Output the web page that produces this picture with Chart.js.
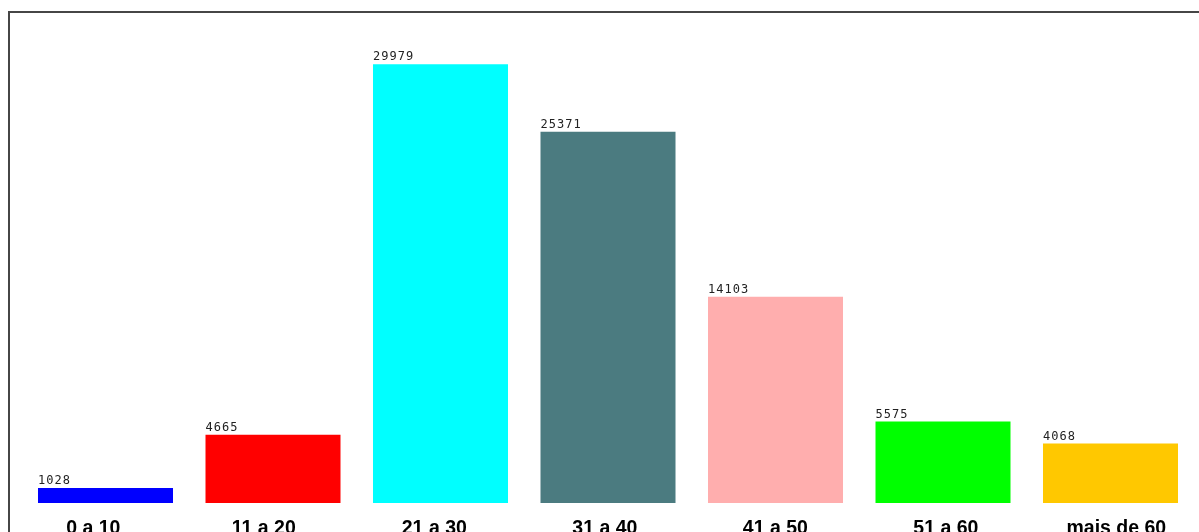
<!DOCTYPE html>
<html>
<head>
<meta charset="utf-8">
<script src="https://cdn.jsdelivr.net/npm/chart.js@4/dist/chart.umd.min.js"></script>
<style>
    html, body { margin: 0; padding: 0; background: #fff; overflow: hidden; }
    #frame {
        position: absolute; left: 8px; top: 11px; width: 1400px; height: 700px;
        border-top: 2px solid #464646; border-left: 2px solid #464646;
    }
    #wrap { position: absolute; left: 0; top: 0; width: 1199px; height: 532px; }
</style>
</head>
<body>
<div id="frame"></div>
<div id="wrap"><canvas id="ageChart"></canvas></div>
<script>
    const categories = ["0 a 10", "11 a 20", "21 a 30", "31 a 40", "41 a 50", "51 a 60", "mais de 60"];
    const values = [1028, 4665, 29979, 25371, 14103, 5575, 4068];
    const barColors = ['#0000ff', '#ff0000', '#00ffff', '#4b7b80', '#ffaeae', '#00ff00', '#ffc800'];

    // small value text above each bar, left aligned with the bar
    const valueLabels = {
        id: 'valueLabels',
        afterDatasetsDraw(chart) {
            const ctx = chart.ctx;
            ctx.save();
            ctx.font = '12px "DejaVu Sans Mono", monospace';
            ctx.fillStyle = '#222';
            ctx.textAlign = 'left';
            ctx.textBaseline = 'bottom';
            ctx.letterSpacing = '1px';
            chart.getDatasetMeta(0).data.forEach((bar, i) => {
                ctx.fillText(String(values[i]), bar.x - bar.width / 2, bar.y - 1);
            });
            ctx.restore();
        }
    };

    window.onload = function () {
        const ctx = document.getElementById('ageChart').getContext('2d');
        new Chart(ctx, {
            type: 'bar',
            data: {
                labels: categories,
                datasets: [{
                    data: values,
                    backgroundColor: barColors,
                    borderWidth: 0,
                    categoryPercentage: 1,
                    barPercentage: 0.806
                }]
            },
            options: {
                responsive: true,
                maintainAspectRatio: false,
                animation: false,
                layout: {
                    padding: { left: 21.75, right: 4.75, top: 64, bottom: -21.5 }
                },
                plugins: {
                    legend: { display: false },
                    tooltip: { enabled: false }
                },
                scales: {
                    x: { display: false },
                    // label axis: tick spacing a bit wider than the bars, like the original
                    xl: {
                        type: 'linear',
                        position: 'bottom',
                        offset: false,
                        min: -0.4196,
                        max: 6.457,
                        grid: { display: false, drawTicks: false, offset: false },
                        border: { display: false },
                        ticks: {
                            stepSize: 1,
                            includeBounds: false,
                            autoSkip: false,
                            maxRotation: 0,
                            padding: 15.5,
                            color: '#000',
                            font: { family: '"Liberation Sans", Arial, sans-serif', size: 19.5, weight: 'bold', lineHeight: 1 },
                            callback: (v) => Number.isInteger(v) ? categories[v] : ''
                        }
                    },
                    y: {
                        display: false,
                        min: 0,
                        max: 30000
                    }
                }
            },
            plugins: [valueLabels]
        });
    };
</script>
</body>
</html>
